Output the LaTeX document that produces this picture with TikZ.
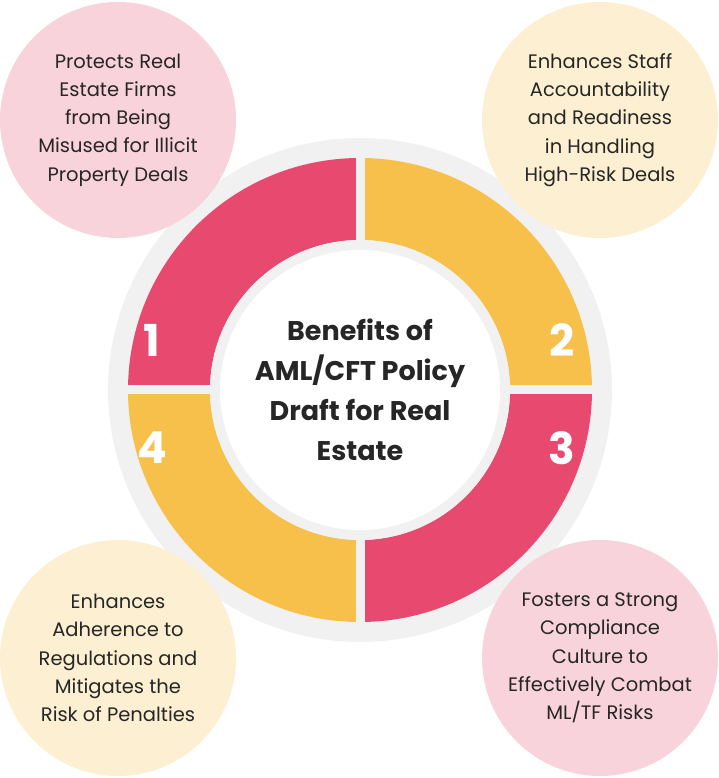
\documentclass[tikz,border=0pt]{standalone}
\usepackage{fontspec}
\setmainfont{Poppins}
\usetikzlibrary{positioning,calc}
\definecolor{ringpink}{HTML}{E84A6F}
\definecolor{ringyellow}{HTML}{F7C04A}
\definecolor{softpink}{HTML}{F9D3DC}
\definecolor{softcream}{HTML}{FDF0D2}
\definecolor{ringgray}{HTML}{F1F1F1}
\begin{document}
\begin{tikzpicture}[x=1pt,y=1pt,
  % bubble for each benefit
  bubble/.style={circle, minimum size=236pt, inner sep=0pt, align=center,
    font=\fontsize{19.5}{28.3}\selectfont, text=black!85},
  num/.style={font=\fontsize{44}{44}\selectfont\bfseries, text=white},
  ]
\useasboundingbox (0,0) rectangle (718,778);
\coordinate (c) at (360,388);
% gray back ring
\fill[ringgray] (c) circle (252);
% quadrants
\fill[ringpink]   (c) ++(90:232) arc (90:180:232) -- ++(0:82) arc (180:90:150) -- cycle;
\fill[ringyellow] (c) ++(0:232) arc (0:90:232) -- ++(0,-82) arc (90:0:150) -- cycle;
\fill[ringpink]   (c) ++(270:232) arc (270:360:232) -- ++(-82,0) arc (360:270:150) -- cycle;
\fill[ringyellow] (c) ++(180:232) arc (180:270:232) -- ++(0,82) arc (270:180:150) -- cycle;
% gaps between quadrants
\draw[ringgray, line width=9pt] ($(c)+(-240,0)$) -- ($(c)+(240,0)$);
\draw[ringgray, line width=9pt] ($(c)+(0,-240)$) -- ($(c)+(0,240)$);
\fill[ringgray] (c) circle (150);
\fill[white] (c) circle (140);
\node[font=\fontsize{27}{40}\selectfont\bfseries, align=center, text=black!85] (title) at (c)
  {Benefits of\\AML/CFT Policy\\Draft for Real\\Estate};
% numbers
\node[num] (n1) at (152,438) {1};
\node[num] (n2) at (562,438) {2};
\node[num] (n3) at (562,330) {3};
\node[num] (n4) at (152,330) {4};
% benefit bubbles
\node[bubble, fill=softpink]  (b1) at (118,658) {Protects Real\\Estate Firms\\from Being\\Misused for Illicit\\Property Deals};
\node[bubble, fill=softcream] (b2) at (600,658) {Enhances Staff\\Accountability\\and Readiness\\in Handling\\High-Risk Deals};
\node[bubble, fill=softpink]  (b3) at (600,120) {Fosters a Strong\\Compliance\\Culture to\\Effectively Combat\\ML/TF Risks};
\node[bubble, fill=softcream] (b4) at (118,120) {Enhances\\Adherence to\\Regulations and\\Mitigates the\\Risk of Penalties};
\end{tikzpicture}
\end{document}
